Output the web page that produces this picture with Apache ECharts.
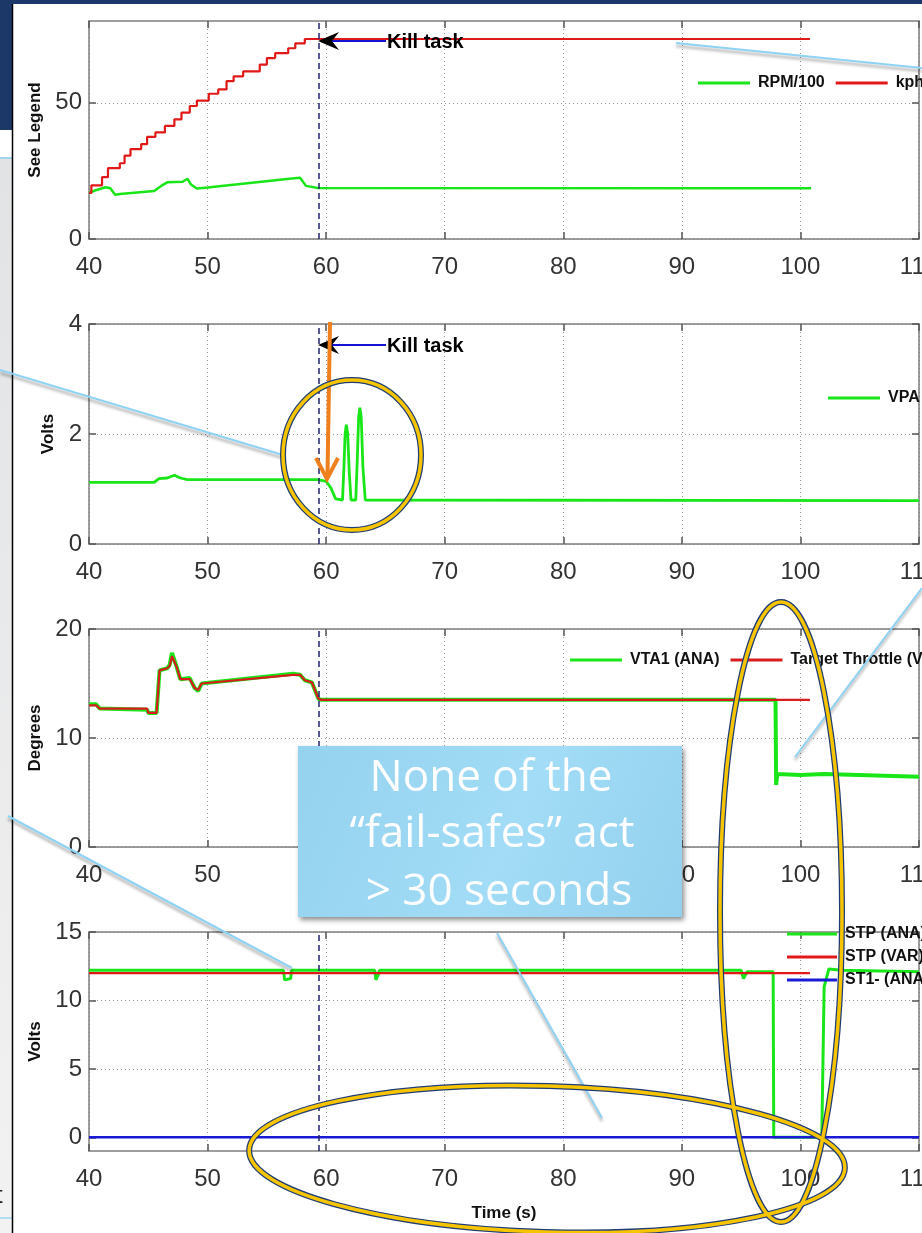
<!DOCTYPE html>
<html>
<head>
<meta charset="utf-8">
<script src="https://cdn.jsdelivr.net/npm/echarts@6/dist/echarts.min.js"></script>
<style>
  html, body { margin: 0; padding: 0; background: #fff; }
  #chart { width: 922px; height: 1233px; }
</style>
</head>
<body>
<div id="chart"></div>
<script>
// 时间轴刻度
const timeTicks = [40, 50, 60, 70, 80, 90, 100, 110];
const killTime = 59.4;

// 第一幅：车速 / 转速
const kph = [[40, 16.9], [40.2, 19.7], [41.1, 22.7], [41.6, 26.0], [42.6, 27.8], [43.0, 30.6], [43.5, 33.0],
  [44.4, 34.8], [44.9, 37.5], [45.6, 39.1], [46.4, 41.5], [47.2, 43.9], [47.8, 46.4], [48.5, 48.8],
  [49.1, 50.8], [50.1, 53.3], [50.9, 54.9], [51.6, 57.9], [52.2, 59.7], [53.0, 61.5], [54.4, 64.0],
  [55.0, 66.4], [55.7, 68.2], [56.8, 70.0], [57.4, 71.8], [58.2, 73.4], [100.8, 73.4]];
const rpm100 = [[40, 16.9], [40.5, 17.8], [41.4, 19.0], [41.8, 18.6], [42.2, 16.2], [42.6, 16.5], [45.5, 17.6],
  [46.2, 19.8], [46.6, 20.8], [47.9, 21.0], [48.3, 22.1], [48.6, 20.0], [49.1, 18.5], [50, 18.9],
  [57.3, 22.3], [57.8, 22.5], [58.3, 19.5], [59.3, 18.7], [100.9, 18.6]];

// 第二幅：踏板电压
const vpa = [[40, 1.12], [45.5, 1.12], [45.9, 1.19], [46.6, 1.2], [47.2, 1.25], [47.7, 1.2], [48.3, 1.17],
  [59.3, 1.17], [60.0, 1.14], [60.4, 1.02], [60.8, 0.82], [60.95, 0.79], [61.38, 0.8], [61.5, 1.4],
  [61.6, 2.0], [61.7, 2.17], [61.82, 2.0], [61.95, 1.3], [62.1, 0.8], [62.5, 0.8], [62.62, 1.5],
  [62.74, 2.3], [62.84, 2.48], [62.96, 2.3], [63.1, 1.4], [63.3, 0.8], [110, 0.79]];

// 第三幅：节气门开度
const vta1 = [[40, 13.1], [40.6, 13.1], [40.9, 12.7], [44.9, 12.6], [45.0, 12.3], [45.7, 12.3], [45.95, 16.2],
  [46.6, 16.4], [46.8, 16.7], [47.0, 17.8], [47.4, 16.5], [47.7, 15.4], [48.5, 15.5], [48.9, 14.6],
  [49.2, 14.3], [49.5, 15.0], [57.2, 15.9], [57.8, 15.8], [58.2, 15.3], [58.8, 15.1], [59.35, 13.6],
  [59.6, 13.5], [97.9, 13.5], [97.95, 5.7], [98.05, 6.7], [100, 6.6], [102, 6.7], [110, 6.45]];
const targetThrottle = [[40, 13.0], [40.6, 13.0], [40.9, 12.7], [44.9, 12.7], [45.0, 12.3], [45.7, 12.3],
  [45.95, 16.2], [46.6, 16.4], [46.8, 16.6], [47.0, 17.5], [47.4, 16.5], [47.7, 15.4], [48.5, 15.4],
  [48.9, 14.6], [49.2, 14.4], [49.5, 15.0], [57.2, 15.8], [57.8, 15.8], [58.2, 15.3], [58.8, 15.1],
  [59.35, 13.6], [59.6, 13.5], [100.8, 13.5]];

// 第四幅：刹车信号
const stpAna = [[40, 12.2], [56.4, 12.2], [56.5, 11.5], [57.0, 11.6], [57.1, 12.2], [64.1, 12.2], [64.2, 11.5],
  [64.4, 11.9], [64.5, 12.2], [95.0, 12.2], [95.2, 11.6], [95.5, 12.1], [97.7, 12.1], [97.75, 0],
  [101.8, 0], [102.0, 11.0], [102.4, 12.3], [103.5, 12.2], [110, 12.1]];
const stpVar = [[40, 12.0], [100.8, 12.0]];
const st1Ana = [[40, 0], [110, 0]];

const yTicks1 = [0, 50];
const yTicks2 = [0, 2, 4];
const yTicks3 = [0, 10, 20];
const yTicks4 = [0, 5, 10, 15];

const chart = echarts.init(document.getElementById('chart'));

const grids = [
  { left: 89, top: 21, width: 830, height: 218, outerBoundsMode: 'none', containLabel: false },
  { left: 89, top: 324, width: 830, height: 220, outerBoundsMode: 'none', containLabel: false },
  { left: 89, top: 629, width: 830, height: 218, outerBoundsMode: 'none', containLabel: false },
  { left: 89, top: 932, width: 830, height: 219, outerBoundsMode: 'none', containLabel: false },
];

const font = 'Liberation Sans, Arial, sans-serif';
const frame = { show: true, onZero: false, lineStyle: { color: '#7d7d7d', width: 1.5 } };
const grid = { show: true, lineStyle: { color: '#9a9a9a', type: [1, 3], width: 1 } };

function timeAxis(i, pos) {
  const bottom = pos === 'bottom';
  return {
    type: 'value', gridIndex: i, position: pos, min: 40, max: 110,
    axisLine: frame,
    axisTick: { show: true, inside: true, length: 7, customValues: timeTicks, lineStyle: { color: '#555', width: 1.5 } },
    axisLabel: { show: bottom, margin: 16, customValues: timeTicks, color: '#333', fontSize: 24, fontFamily: font },
    splitLine: bottom ? grid : { show: false },
    name: bottom && i === 3 ? 'Time (s)' : '',
    nameLocation: 'middle', nameGap: 54,
    nameTextStyle: { fontSize: 17, fontWeight: 'bold', color: '#111', fontFamily: font },
  };
}

function valueAxis(i, pos, min, max, ticks, name, gap) {
  const left = pos === 'left';
  return {
    type: 'value', gridIndex: i, position: pos, min: min, max: max,
    axisLine: frame,
    axisTick: { show: true, inside: true, length: 7, customValues: ticks, lineStyle: { color: '#555', width: 1.5 } },
    axisLabel: { show: left, margin: 7, customValues: ticks, color: '#333', fontSize: 24, fontFamily: font },
    splitLine: left ? grid : { show: false },
    name: left ? name : '',
    nameLocation: 'middle', nameGap: gap,
    nameTextStyle: { fontSize: 17, fontWeight: 'bold', color: '#111', fontFamily: font },
  };
}

const killLine = {
  silent: true, symbol: 'none', label: { show: false },
  lineStyle: { color: '#23236e', type: [6, 4], width: 1.5 },
  data: [{ xAxis: killTime }],
};

function line(name, data, color, i, width, extra) {
  return Object.assign({
    name: name, type: 'line', data: data, xAxisIndex: i, yAxisIndex: i,
    showSymbol: false, symbol: 'none', animation: false,
    itemStyle: { color: color }, lineStyle: { color: color, width: width },
  }, extra || {});
}

const legendBase = {
  icon: 'rect', itemWidth: 52, itemHeight: 3, itemGap: 11, padding: 0, width: 500,
  selectedMode: false,
  textStyle: { fontSize: 16, fontWeight: 'bold', color: '#111', fontFamily: font, padding: [0, 0, 0, 3] },
};

function ellipse(cx, cy, rx, ry, rot) {
  return [
    { type: 'ellipse', x: cx, y: cy, rotation: rot || 0, shape: { cx: 0, cy: 0, rx: rx, ry: ry },
      style: { fill: 'none', stroke: '#203c74', lineWidth: 6 }, z: 100 },
    { type: 'ellipse', x: cx, y: cy, rotation: rot || 0, shape: { cx: 0, cy: 0, rx: rx, ry: ry },
      style: { fill: 'none', stroke: '#f6c500', lineWidth: 3.5 }, z: 101 },
  ];
}

function leader(x1, y1, x2, y2) {
  return { type: 'line', shape: { x1: x1, y1: y1, x2: x2, y2: y2 }, z: 90,
    style: { stroke: '#8fd3f4', lineWidth: 2, shadowColor: 'rgba(0,0,0,0.35)', shadowBlur: 3, shadowOffsetY: 3 } };
}

function killTask(y) {
  return [
    { type: 'line', shape: { x1: 332, y1: y, x2: 386, y2: y }, style: { stroke: '#1414d2', lineWidth: 2 }, z: 95 },
    { type: 'polygon', shape: { points: [[318, y], [339, y - 9], [332, y], [339, y + 9]] }, style: { fill: '#000' }, z: 96 },
    { type: 'text', x: 387, y: y + 1, style: { text: 'Kill task', font: 'bold 20px ' + font, fill: '#000', verticalAlign: 'middle' }, z: 96 },
  ];
}

const calloutFont = '44px "Open Sans", sans-serif';

const graphics = [
  { type: 'rect', shape: { x: 0, y: 0, width: 922, height: 4 }, style: { fill: '#1c3868' }, z: 1 },
  { type: 'rect', shape: { x: 0, y: 0, width: 12, height: 130 }, style: { fill: '#1c3868' }, z: 1 },
  { type: 'rect', shape: { x: 0, y: 158, width: 12, height: 1075 },
    style: { fill: new echarts.graphic.LinearGradient(0, 0, 0, 1, [{ offset: 0, color: '#e2e3e5' }, { offset: 1, color: '#f2f2f2' }]) }, z: 1 },
  { type: 'line', shape: { x1: 0, y1: 158, x2: 12, y2: 158 }, style: { stroke: '#9fd4ef', lineWidth: 2 }, z: 2 },
  { type: 'line', shape: { x1: 0, y1: 1218, x2: 12, y2: 1218 }, style: { stroke: '#9fd4ef', lineWidth: 1.5 }, z: 2 },
  { type: 'text', x: -4, y: 1196, style: { text: 't', font: '24px ' + font, fill: '#222', verticalAlign: 'middle' }, z: 2 },
  { type: 'line', shape: { x1: 12.5, y1: 4, x2: 12.5, y2: 1233 }, style: { stroke: '#000', lineWidth: 1.5 }, z: 2 },

  leader(676, 43, 922, 68),
  leader(0, 370, 283, 455),
  leader(922, 588, 795, 757),
  leader(8, 816, 292, 968),
  leader(497, 933, 602, 1118),

  ...killTask(41),
  ...killTask(345),

  { type: 'line', shape: { x1: 330, y1: 322, x2: 327.5, y2: 475 }, style: { stroke: '#f0801e', lineWidth: 4 }, z: 97 },
  { type: 'polyline', shape: { points: [[316, 458], [327, 479], [338, 458]] }, style: { stroke: '#f0801e', lineWidth: 4 }, z: 97 },

  ...ellipse(352, 455, 69, 75, 0),
  ...ellipse(781, 912, 61, 310, 0),
  ...ellipse(547, 1159, 298, 73, -0.03),

  { type: 'rect', shape: { x: 298, y: 746, width: 384, height: 171 }, z: 110,
    style: {
      fill: new echarts.graphic.LinearGradient(0, 0, 1, 1, [
        { offset: 0, color: '#94d2ee' }, { offset: 0.55, color: '#a2dcf6' }, { offset: 1, color: '#93d1ee' }]),
      shadowColor: 'rgba(0,0,0,0.45)', shadowBlur: 5, shadowOffsetX: 2, shadowOffsetY: 3,
    } },
  { type: 'text', x: 491, y: 778, z: 111, style: { text: 'None of the', font: calloutFont, fill: '#fff', align: 'center', verticalAlign: 'middle' } },
  { type: 'text', x: 492, y: 834, z: 111, style: { text: '“fail-safes” act', font: calloutFont, fill: '#fff', align: 'center', verticalAlign: 'middle' } },
  { type: 'text', x: 499, y: 892, z: 111, style: { text: '> 30 seconds', font: calloutFont, fill: '#fff', align: 'center', verticalAlign: 'middle' } },
];

const option = {
  animation: false,
  backgroundColor: '#fff',
  grid: grids,
  xAxis: [0, 1, 2, 3].map((i) => timeAxis(i, 'bottom')).concat([0, 1, 2, 3].map((i) => timeAxis(i, 'top'))),
  yAxis: [
    valueAxis(0, 'left', 0, 80, yTicks1, 'See Legend', 45),
    valueAxis(1, 'left', 0, 4, yTicks2, 'Volts', 32),
    valueAxis(2, 'left', 0, 20, yTicks3, 'Degrees', 45),
    valueAxis(3, 'left', -1, 15, yTicks4, 'Volts', 45),
    valueAxis(0, 'right', 0, 80, yTicks1, '', 0),
    valueAxis(1, 'right', 0, 4, yTicks2, '', 0),
    valueAxis(2, 'right', 0, 20, yTicks3, '', 0),
    valueAxis(3, 'right', -1, 15, yTicks4, '', 0),
  ],
  legend: [
    Object.assign({}, legendBase, { data: ['RPM/100', 'kph'], left: 698, top: 75 }),
    Object.assign({}, legendBase, { data: ['VPA'], left: 828, top: 390 }),
    Object.assign({}, legendBase, { data: ['VTA1 (ANA)', 'Target Throttle (VAR)'], left: 570, top: 652 }),
    Object.assign({}, legendBase, { data: ['STP (ANA)', 'STP (VAR)', 'ST1- (ANA)'], left: 787, top: 926, orient: 'vertical', itemGap: 7, itemWidth: 50 }),
  ],
  series: [
    line('RPM/100', rpm100, '#19e619', 0, 2.5, { markLine: killLine }),
    line('kph', kph, '#e01818', 0, 2.2, { step: 'end' }),
    line('VPA', vpa, '#19e619', 1, 2.8, { markLine: killLine }),
    line('VTA1 (ANA)', vta1, '#19e619', 2, 4, { markLine: killLine }),
    line('Target Throttle (VAR)', targetThrottle, '#d81c1c', 2, 2.2),
    line('STP (ANA)', stpAna, '#19e619', 3, 3, { markLine: killLine }),
    line('STP (VAR)', stpVar, '#e01818', 3, 2.2),
    line('ST1- (ANA)', st1Ana, '#1a1ad6', 3, 2.5),
  ],
  graphic: graphics,
};

chart.setOption(option);
</script>
</body>
</html>
